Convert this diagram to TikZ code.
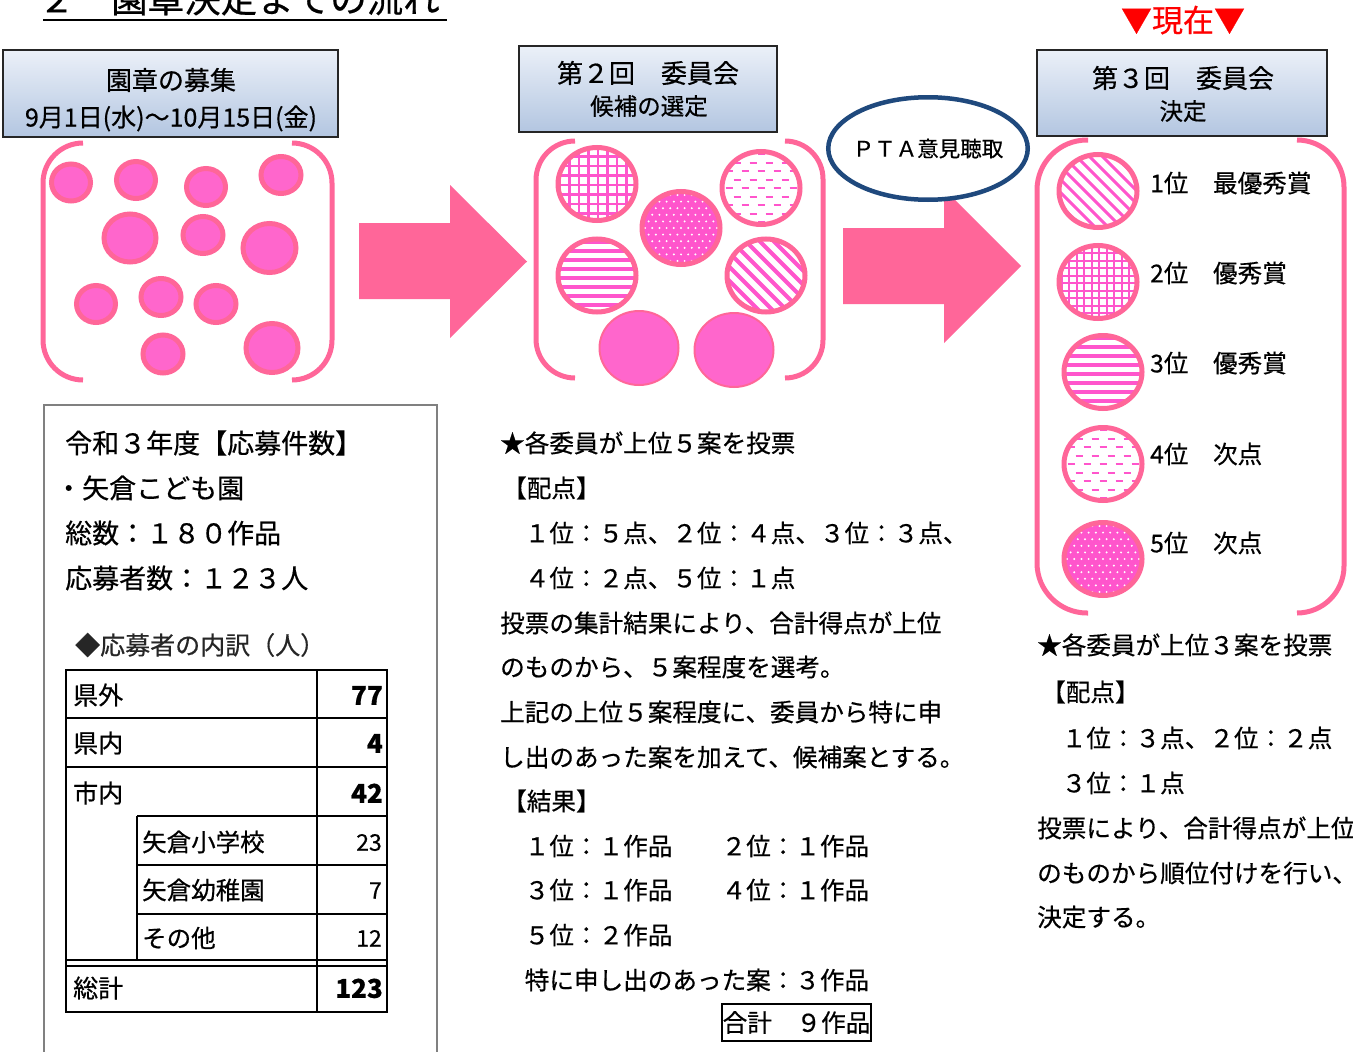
\documentclass[tikz,border=0pt]{standalone}
\usepackage{fontspec}
\setmainfont{Noto Sans CJK JP}[FakeBold=0.5]
\usetikzlibrary{shapes.geometric}
\newcommand\jfs[1]{\fontsize{#1}{#1}\selectfont}
\definecolor{ringpink}{HTML}{FF6699}
\definecolor{patpink}{HTML}{FF55CC}
\definecolor{fillpink}{HTML}{FF66CC}
\definecolor{arrowpink}{HTML}{FF6699}
\definecolor{navy}{HTML}{1F497D}
\definecolor{boxtop}{HTML}{EBF0F8}
\definecolor{boxbot}{HTML}{B3C6E1}
\tikzset{
  ring/.style={draw=ringpink, line width=5pt},
  pat/.style={draw=patpink, line width=#1},
  pics/gridcirc/.style 2 args={code={
    \begin{scope}
      \clip (0,0) ellipse [x radius=38pt, y radius=35.5pt];
      \foreach \k in {-6,...,6}{
        \draw[pat=#2] (\k*#1+1,-45) -- (\k*#1+1,45);
        \draw[pat=#2] (-45,\k*#1+1) -- (45,\k*#1+1);
      }
    \end{scope}
    \draw[ring] (0,0) ellipse [x radius=39pt, y radius=36.5pt];
  }},
  pics/hlinecirc/.style 2 args={code={
    \begin{scope}
      \clip (0,0) ellipse [x radius=38pt, y radius=35.5pt];
      \foreach \k in {-6,...,6}{
        \draw[pat=#2] (-45,\k*#1+2) -- (45,\k*#1+2);
      }
    \end{scope}
    \draw[ring] (0,0) ellipse [x radius=39pt, y radius=36.5pt];
  }},
  pics/diagcirc/.style 2 args={code={
    \begin{scope}
      \clip (0,0) ellipse [x radius=38pt, y radius=35.5pt];
      \foreach \k in {-9,...,9}{
        \draw[pat=#2] (\k*#1-50,-50) -- (\k*#1+50,50);
      }
    \end{scope}
    \draw[ring] (0,0) ellipse [x radius=39pt, y radius=36.5pt];
  }},
  pics/dashcirc/.style={code={
    \begin{scope}
      \clip (0,0) ellipse [x radius=38pt, y radius=35.5pt];
      \foreach \j in {-5,...,5}{
        \foreach \i in {-4,...,4}{
          \draw[pat=2pt] ({\i*16+mod(\j,2)*8-3.5},\j*8.5) -- ++(7,0);
        }
      }
    \end{scope}
    \draw[ring] (0,0) ellipse [x radius=39pt, y radius=36.5pt];
  }},
  pics/dotcirc/.style={code={
    \fill[patpink] (0,0) ellipse [x radius=39pt, y radius=36.5pt];
    \begin{scope}
      \clip (0,0) ellipse [x radius=38pt, y radius=35.5pt];
      \foreach \j in {-6,...,6}{
        \foreach \i in {-6,...,6}{
          \fill[white] ({\i*7.2+mod(\j,2)*3.6},\j*6.6) circle [radius=1.1pt];
        }
      }
    \end{scope}
    \draw[ring] (0,0) ellipse [x radius=39pt, y radius=36.5pt];
  }},
}
\begin{document}
\begin{tikzpicture}[x=1pt,y=-1pt,
  jt/.style={font=\jfs{#1}, inner sep=0pt,
    /utils/exec={\pgfmathsetmacro\jth{0.88*#1}\pgfmathsetmacro\jtd{0.12*#1}},
    text height=\jth pt, text depth=\jtd pt},
  lt/.style={jt=#1, anchor=west},
  numb/.style={jt=26, anchor=east, font=\jfs{26}\bfseries},
  nums/.style={jt=23, anchor=east},
  stagebox/.style={draw=black!85, line width=1.6pt, top color=boxtop, bottom color=boxbot, inner sep=0pt},
  bracket/.style={draw=ringpink, line width=5pt, rounded corners=#1},
  blockarrow/.style={fill=arrowpink},
  dotc/.style={draw=ringpink, fill=fillpink, line width=5pt},
  solidc/.style={draw=ringpink, fill=fillpink, line width=2pt},
  tline/.style={draw=black, line width=2.2pt},
]
\useasboundingbox (0,0) rectangle (1353,1052);
\fill[white] (0,0) rectangle (1353,1052);

% title (cut at top edge)
\node[lt=36.5] (title) at (38,-1.5) {２　園章決定までの流れ};
\draw[line width=2.5pt] (43,20) -- (447,20);

% stage boxes
\node[stagebox, minimum width=335pt, minimum height=87pt] (box1) at (170.5,93.5) {};
\node[jt=26] (b1a) at (171,80) {園章の募集};
\node[jt=25] (b1b) at (171,117) {9月1日(水)～10月15日(金)};

\node[stagebox, minimum width=258pt, minimum height=86pt] (box2) at (648,89) {};
\node[jt=26] (b2a) at (648,73) {第２回　委員会};
\node[jt=23.5] (b2b) at (649,106) {候補の選定};

\node[stagebox, minimum width=290pt, minimum height=86pt] (box3) at (1182,93) {};
\node[jt=26] (b3a) at (1183,78) {第３回　委員会};
\node[jt=23.5] (b3b) at (1183,111) {決定};

\node[jt=31, text=red] (now) at (1183,20) {▼現在▼};

% brackets
\draw[bracket=40pt] (83,143) -- (43,143) -- (43,380) -- (83,380);
\draw[bracket=40pt] (292,143) -- (332,143) -- (332,380) -- (292,380);
\draw[bracket=39pt] (575,141) -- (536,141) -- (536,378) -- (575,378);
\draw[bracket=38pt] (785,141) -- (823,141) -- (823,378) -- (785,378);
\draw[bracket=50pt] (1088,140) -- (1037,140) -- (1037,613) -- (1088,613);
\draw[bracket=47pt] (1297,140) -- (1344,140) -- (1344,613) -- (1297,613);

% left circles (entries)
\foreach \cx/\cy/\rx/\ry in {71/182.5/19.5/18.5, 136/180/19.5/18.5, 206/187/19.5/18.5,
  281/175/20/18.5, 130/238/26/24, 203/235/20/18.5, 269.5/248/26.5/24.5,
  96/304/19.5/18.5, 161/297/20/18.5, 216/304/20/18.5, 163/354/20/19, 272/348/26/24.5}{
  \draw[dotc] (\cx,\cy) ellipse [x radius=\rx pt, y radius=\ry pt];
}

% middle circles (candidates)
\pic at (597,184) {gridcirc={9.5}{2.8pt}};
\pic at (761,188) {dashcirc};
\pic at (681,228) {dotcirc};
\pic at (597,275.5) {hlinecirc={9}{4pt}};
\pic at (766,275.5) {diagcirc={14}{4pt}};
\draw[solidc] (639,348) ellipse [x radius=39.5pt, y radius=37pt];
\draw[solidc] (734,350) ellipse [x radius=39.5pt, y radius=37pt];

% right circles (ranking)
\pic at (1098,191) {diagcirc={13}{3pt}};
\pic at (1098,282) {gridcirc={7.5}{2pt}};
\pic at (1103,372) {hlinecirc={9}{4pt}};
\pic at (1103,464) {dashcirc};
\pic at (1103,559) {dotcirc};

\node[lt=24.6] (r1) at (1150,183) {1位　最優秀賞};
\node[lt=24.6] (r2) at (1150,273) {2位　優秀賞};
\node[lt=24.6] (r3) at (1150,363) {3位　優秀賞};
\node[lt=24.6] (r4) at (1150,454) {4位　次点};
\node[lt=24.6] (r5) at (1150,543) {5位　次点};

% block arrows
\fill[blockarrow] (359,223) -- (450,223) -- (450,185) -- (527,261.5) -- (450,338) -- (450,299) -- (359,299) -- cycle;
\fill[blockarrow] (843,228) -- (944,228) -- (944,189) -- (1021,266) -- (944,343) -- (944,304) -- (843,304) -- cycle;

% PTA ellipse
\node[ellipse, draw=navy, line width=4.5pt, fill=white, minimum width=199.5pt, minimum height=102.5pt, inner sep=0pt] (pta) at (928,148.5) {};
\node[jt=21.5] (ptatext) at (pta.center) {ＰＴＡ意見聴取};

% bottom-left info box
\draw[black!50, line width=1.3pt] (44,1060) -- (44,405) -- (437,405) -- (437,1060);
\node[lt=27] (l1) at (65,443) {令和３年度【応募件数】};
\node[lt=27] (l2) at (55,488) {・矢倉こども園};
\node[lt=27] (l3) at (65,533) {総数：１８０作品};
\node[lt=27] (l4) at (65,578) {応募者数：１２３人};
\node[lt=25, text=black!85] (l5) at (75,645) {◆応募者の内訳（人）};

% table
\draw[tline] (66,670) rectangle (387,1012);
\draw[tline] (66,718) -- (387,718);
\draw[tline] (66,767) -- (387,767);
\draw[tline] (137,816) -- (387,816);
\draw[tline] (137,865) -- (387,865);
\draw[tline] (137,914) -- (387,914);
\draw[black, line width=1.6pt] (66,960) -- (387,960);
\draw[black, line width=1.6pt] (66,966) -- (387,966);
\draw[tline] (317,670) -- (317,1012);
\draw[tline] (137,816) -- (137,960);
\node[lt=25] (t1) at (73,695) {県外};
\node[numb] (n1) at (383,695) {77};
\node[lt=25] (t2) at (73,743) {県内};
\node[numb] (n2) at (383,743) {4};
\node[lt=25] (t3) at (73,793) {市内};
\node[numb] (n3) at (383,793) {42};
\node[lt=24.5] (t4) at (142,842) {矢倉小学校};
\node[nums] (n4) at (382,842) {23};
\node[lt=24.5] (t5) at (142,890) {矢倉幼稚園};
\node[nums] (n5) at (382,890) {7};
\node[lt=24.5] (t6) at (142,938) {その他};
\node[nums] (n6) at (382,938) {12};
\node[lt=25] (t7) at (73,988) {総計};
\node[numb] (n7) at (383,988) {123};

% middle text
\node[lt=24.6] (m1) at (500,443) {★各委員が上位５案を投票};
\node[lt=24.6] (m2) at (502,488) {【配点】};
\node[lt=24.6] (m3) at (500,533) {　１位：５点、２位：４点、３位：３点、};
\node[lt=24.6] (m4) at (500,578) {　４位：２点、５位：１点};
\node[lt=24.6] (m5) at (500,623) {投票の集計結果により、合計得点が上位};
\node[lt=24.6] (m6) at (500,667) {のものから、５案程度を選考。};
\node[lt=24.6] (m7) at (500,712) {上記の上位５案程度に、委員から特に申};
\node[lt=24.6] (m8) at (500,757) {し出のあった案を加えて、候補案とする。};
\node[lt=24.6] (m9) at (502,801) {【結果】};
\node[lt=24.6] (m10) at (500,846) {　１位：１作品　　２位：１作品};
\node[lt=24.6] (m11) at (500,890) {　３位：１作品　　４位：１作品};
\node[lt=24.6] (m12) at (500,935) {　５位：２作品};
\node[lt=24.6] (m13) at (500,980) {　特に申し出のあった案：３作品};
\node[jt=24.6, draw=black, line width=2pt, minimum width=149pt, minimum height=37pt] (total) at (796.5,1022.5) {合計　９作品};

% right text
\node[lt=24.6] (q1) at (1037,645) {★各委員が上位３案を投票};
\node[lt=24.6] (q2) at (1041,692) {【配点】};
\node[lt=24.6] (q3) at (1037,738) {　１位：３点、２位：２点};
\node[lt=24.6] (q4) at (1037,783) {　３位：１点};
\node[lt=24.6] (q5) at (1037,828) {投票により、合計得点が上位};
\node[lt=24.6] (q6) at (1037,873) {のものから順位付けを行い、};
\node[lt=24.6] (q7) at (1037,917) {決定する。};
\end{tikzpicture}
\end{document}
